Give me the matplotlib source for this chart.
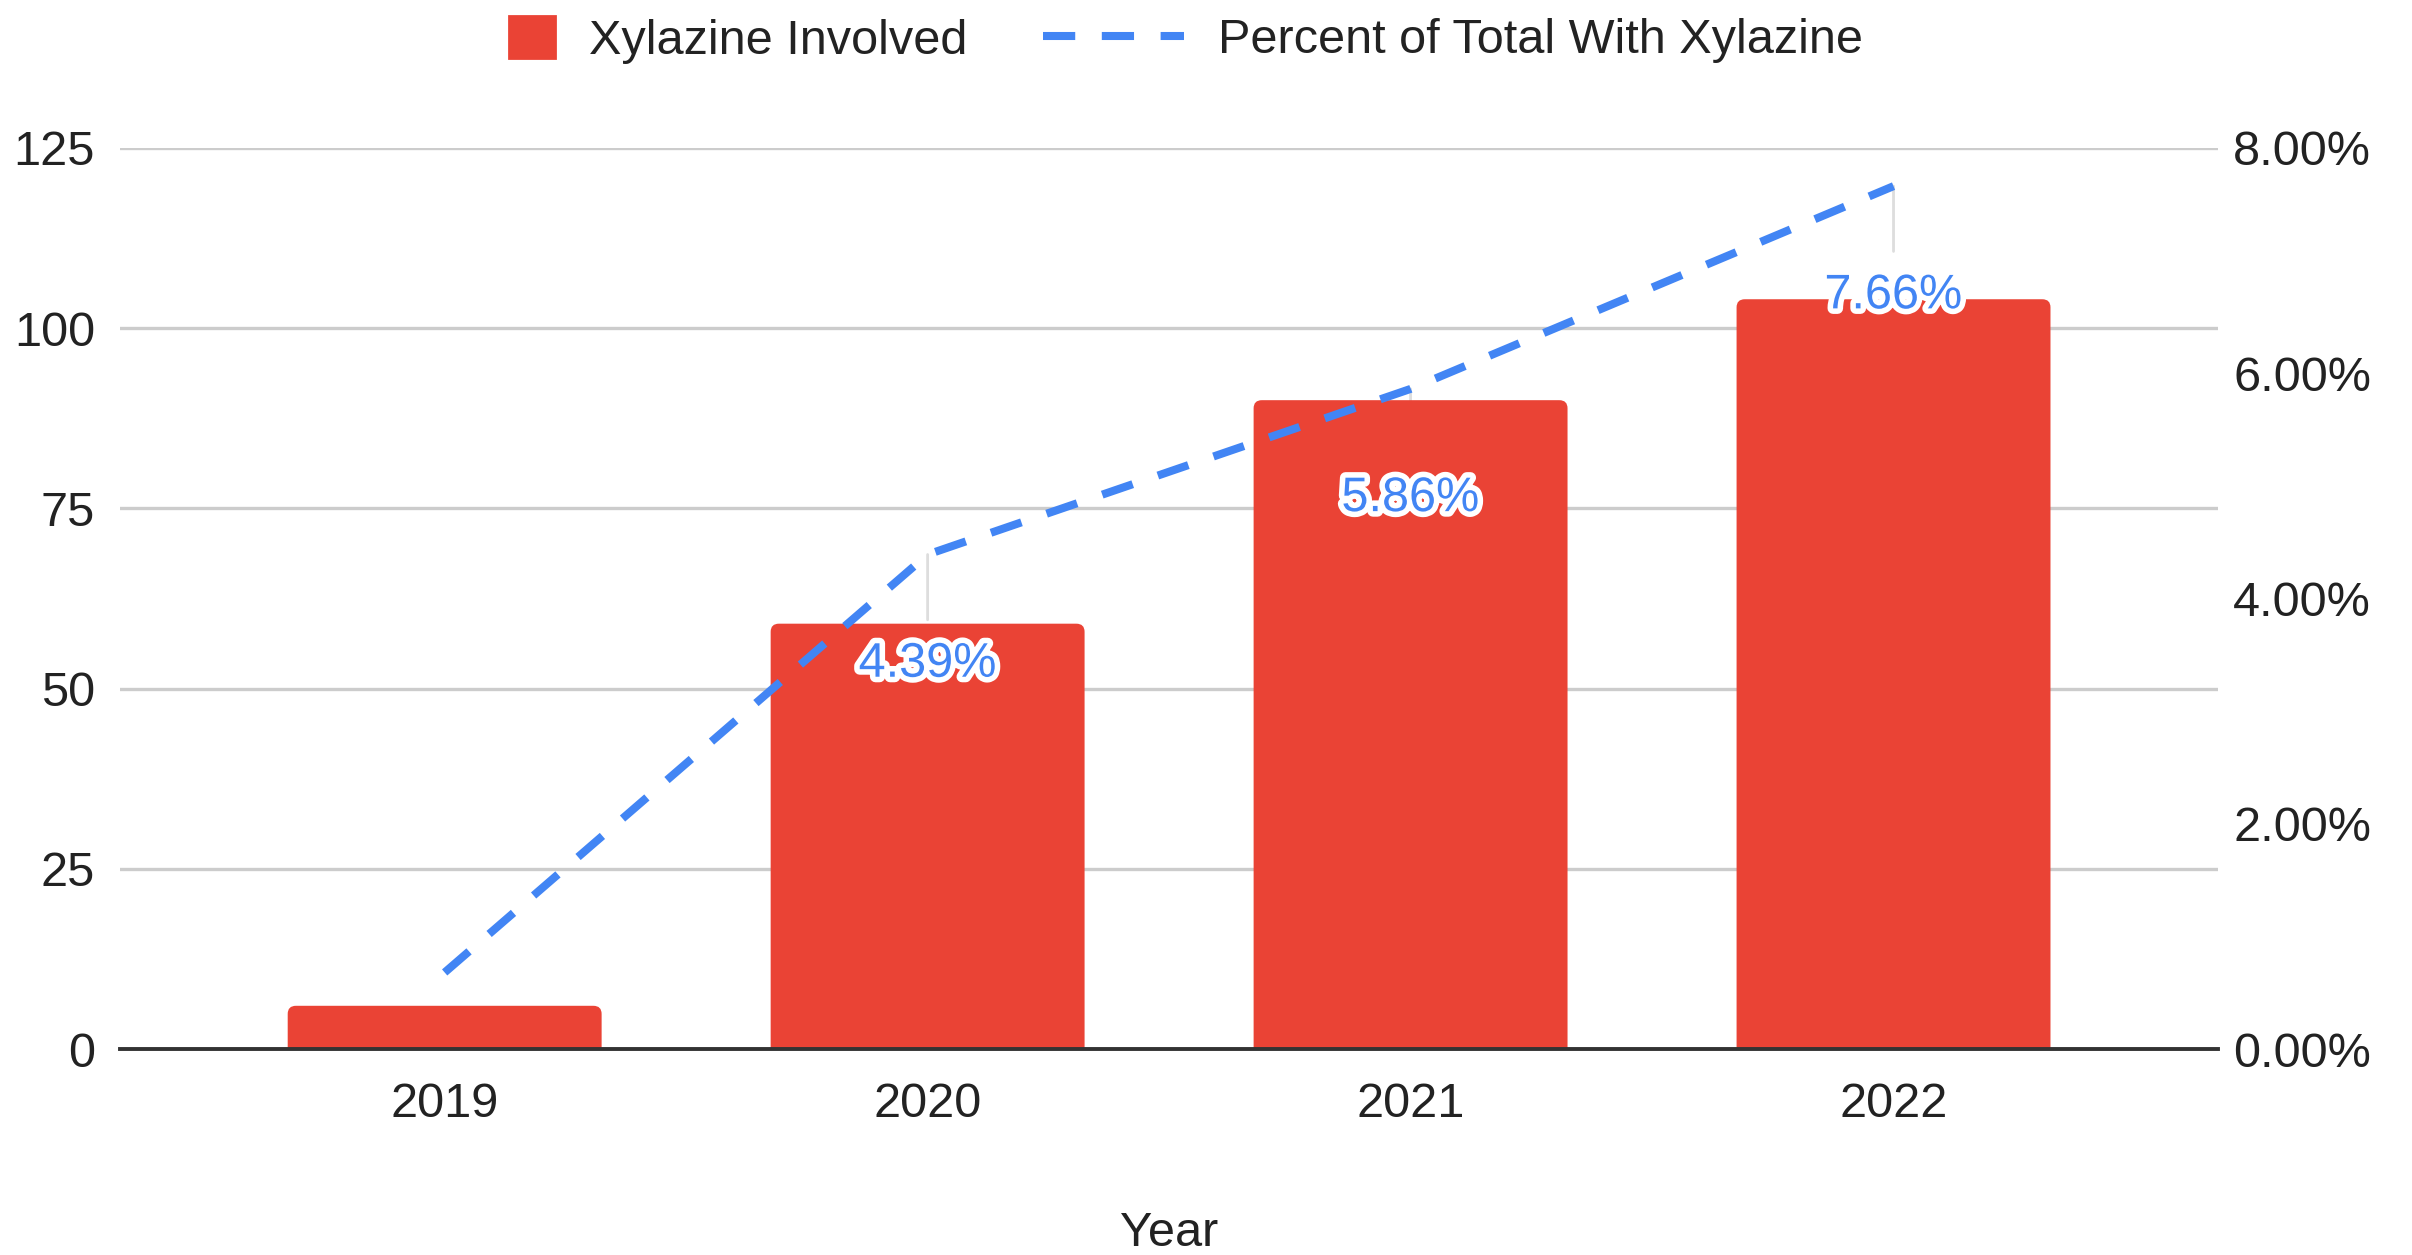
import matplotlib.pyplot as plt
import matplotlib.patches as mpatches
import matplotlib.patheffects as pe
from matplotlib.lines import Line2D
from matplotlib.ticker import FuncFormatter

plt.rcParams['font.family'] = ['Liberation Sans', 'DejaVu Sans']

years = ["2019", "2020", "2021", "2022"]
xylazine_involved = [6, 59, 90, 104]
percent_with_xylazine = [0.68, 4.39, 5.86, 7.66]
percent_labels = [None, "4.39%", "5.86%", "7.66%"]

red = "#EA4335"
blue = "#4285F4"
fs = 17.5

fig = plt.figure(figsize=(12.06, 6.275), dpi=200)
ax = fig.add_axes([0.0498, 0.1641, 0.8698, 0.7181])
x = range(len(years))

bars = ax.bar(x, xylazine_involved, width=0.65, color=red, zorder=2)
# swap the plain rectangles for ones with rounded corners
for b in bars:
    b.set_visible(False)
    r = mpatches.FancyBboxPatch((b.get_x(), -1.5), b.get_width(), b.get_height() + 1.5,
                                boxstyle="round,pad=0,rounding_size=0.017",
                                mutation_aspect=66, facecolor=red, edgecolor='none',
                                zorder=2)
    ax.add_patch(r)
ax.set_xlim(-0.672, 3.672)
ax.set_ylim(0, 125)
ax.set_yticks([0, 25, 50, 75, 100, 125])
ax.set_xticks(list(x))
ax.set_xticklabels(years)
ax.grid(axis='y', color='#cccccc', linewidth=1.2, zorder=0)
ax.set_axisbelow(True)
for s in ['top', 'right', 'left']:
    ax.spines[s].set_visible(False)
ax.spines['bottom'].set_color('#333333')
ax.spines['bottom'].set_linewidth(1.4)
ax.spines['bottom'].set_zorder(3)
ax.tick_params(axis='y', length=0, pad=9, labelsize=fs, colors='#222222')
ax.tick_params(axis='x', length=0, pad=12, labelsize=fs, colors='#222222')
ax.set_xlabel("Year", fontsize=fs, color='#222222', labelpad=30)

ax2 = ax.twinx()
ax2.set_ylim(0, 8)
ax2.set_yticks([0, 2, 4, 6, 8])
ax2.yaxis.set_major_formatter(FuncFormatter(lambda v, p: f"{v:.2f}%"))
ax2.tick_params(axis='y', length=0, pad=5.5, labelsize=fs, colors='#222222')
for s in ax2.spines.values():
    s.set_visible(False)

for i, (p, lab) in enumerate(zip(percent_with_xylazine, percent_labels)):
    if lab is None:
        continue
    # leader line sits behind the bars
    ax.annotate('', xy=(i, p), xycoords=ax2.transData, xytext=(0, -23.5),
                textcoords='offset points',
                arrowprops=dict(arrowstyle='-', color='#dddddd', lw=1,
                                shrinkA=0, shrinkB=0), zorder=1.5)
    ax2.annotate(lab, xy=(i, p), xytext=(0, -39.5), textcoords='offset points',
                 ha='center', va='center', fontsize=fs, color=blue, zorder=5,
                 path_effects=[pe.withStroke(linewidth=4, foreground='white')])

ax2.plot(list(x), percent_with_xylazine, color=blue, linewidth=2.9,
         dashes=(4, 3.3), dash_capstyle='butt', zorder=4)

h1 = mpatches.Patch(color=red, label="Xylazine Involved")
h2 = Line2D([], [], color=blue, linewidth=2.9, dashes=(4, 3.3),
            label="Percent of Total With Xylazine")
fig.legend(handles=[h1], loc='center left', bbox_to_anchor=(0.201, 0.968),
           frameon=False, fontsize=fs, borderpad=0, handlelength=0.95,
           handleheight=0.95, handletextpad=0.7, labelcolor='#222222')
fig.legend(handles=[h2], loc='center left', bbox_to_anchor=(0.4224, 0.968),
           frameon=False, fontsize=fs, borderpad=0, handlelength=2.9,
           handletextpad=0.7, labelcolor='#222222')

fig.savefig("out.png", dpi=200)
